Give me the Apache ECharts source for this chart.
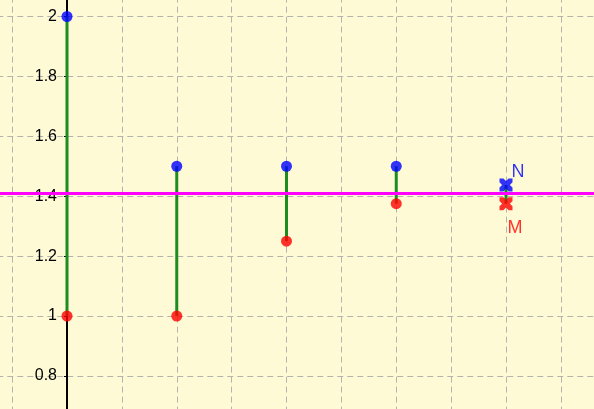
<!DOCTYPE html>
<html><head><meta charset="utf-8">
<script src="https://cdn.jsdelivr.net/npm/echarts@6/dist/echarts.min.js"></script>
<style>html,body{margin:0;padding:0;background:#fefad6;}#c{width:594px;height:409px;}</style>
</head><body><div id="c"></div>
<script>
// Bisection steps for sqrt(2)
const steps = [0, 1, 2, 3];
const upper = [2, 1.5, 1.5, 1.5];
const lower = [1, 1, 1.25, 1.375];
const nPoint = [4, 1.4375];
const mPoint = [4, 1.375];
const target = Math.SQRT2;
const yTicks = [0.8, 1, 1.2, 1.4, 1.6, 1.8, 2];

const segs = steps.map((x, i) => [x, lower[i], upper[i]]);
segs.push([nPoint[0], mPoint[1], nPoint[1]]);

const cross = 'path://M0,0 L3,0 L5,2 L7,0 L10,0 L10,3 L8,5 L10,7 L10,10 L7,10 L5,8 L3,10 L0,10 L0,7 L2,5 L0,3 Z';

const chart = echarts.init(document.getElementById('c'), null, {renderer: 'canvas'});
chart.setOption({
  animation: false,
  backgroundColor: '#fefad6',
  grid: {left: -42.75, right: -21.75, top: -43.4, bottom: -26.8, containLabel: false, outerBoundsMode: 'none'},
  xAxis: {
    type: 'value', min: -1, max: 5, interval: 0.5,
    axisLine: {show: false}, axisTick: {show: false}, axisLabel: {show: false},
    splitLine: {show: true, lineStyle: {color: '#b4b4ac', type: [6, 4], width: 1}}
  },
  yAxis: {
    type: 'value', min: 0.6, max: 2.2, interval: 0.2, position: 'left', offset: -109.75,
    axisLine: {show: true, onZero: false, lineStyle: {color: '#000', width: 2}},
    axisTick: {show: true, length: 3, lineStyle: {color: '#000', width: 1}},
    axisLabel: {
      show: true, color: '#000', fontSize: 16, fontFamily: 'Liberation Sans, Arial, sans-serif', margin: 10,
      formatter: v => yTicks.some(t => Math.abs(t - v) < 1e-9) ? String(+v.toFixed(2)) : ''
    },
    splitLine: {show: true, lineStyle: {color: '#b4b4ac', type: [6, 4], width: 1}}
  },
  series: [
    {
      type: 'custom', data: segs, encode: {x: 0, y: [1, 2]}, z: 3,
      renderItem: (params, api) => {
        const p1 = api.coord([api.value(0), api.value(1)]);
        const p2 = api.coord([api.value(0), api.value(2)]);
        return {type: 'line', shape: {x1: p1[0], y1: p1[1], x2: p2[0], y2: p2[1]},
          style: {stroke: '#1e8c1e', lineWidth: 3}};
      }
    },
    {
      type: 'line', data: [], z: 4,
      markLine: {
        silent: true, symbol: 'none', label: {show: false},
        lineStyle: {color: '#ff00ff', width: 3, type: 'solid'},
        data: [{yAxis: target}]
      }
    },
    {
      type: 'scatter', z: 5, symbol: 'circle', symbolSize: 11,
      itemStyle: {color: '#0000ff'},
      data: steps.map((x, i) => [x, upper[i]])
    },
    {
      type: 'scatter', z: 5, symbol: 'circle', symbolSize: 11,
      itemStyle: {color: '#ff0000'},
      data: steps.map((x, i) => [x, lower[i]])
    },
    {
      type: 'scatter', z: 6, symbol: cross, symbolSize: 13,
      itemStyle: {color: '#0000ff'},
      label: {show: true, formatter: 'N', position: [12, -15], color: '#0000ff', fontSize: 18, fontFamily: 'Liberation Sans, Arial, sans-serif'},
      data: [nPoint]
    },
    {
      type: 'scatter', z: 6, symbol: cross, symbolSize: 13,
      itemStyle: {color: '#ff0000'},
      label: {show: true, formatter: 'M', position: [8, 22], color: '#ff0000', fontSize: 18, fontFamily: 'Liberation Sans, Arial, sans-serif'},
      data: [mPoint]
    }
  ]
});
</script>
</body></html>
